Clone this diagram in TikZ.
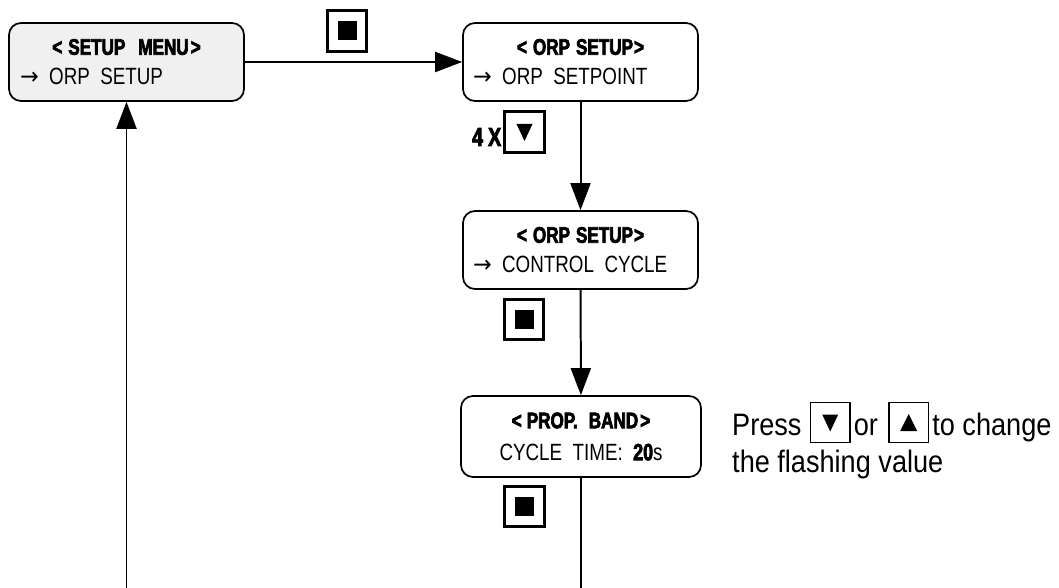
\documentclass[tikz,border=0pt]{standalone}
\usepackage{fontspec}
\setmainfont[FakeStretch=0.875]{Liberation Sans}
\newfontfamily\dinfont[FakeStretch=0.8,WordSpace=2]{Liberation Sans}
\newfontfamily\headfont[FakeStretch=0.76,FakeBold=3]{Liberation Sans Bold}
\newfontfamily\arrowfont[FakeStretch=0.95]{DejaVu Sans}
\usepackage{tikz}
\usetikzlibrary{arrows.meta,positioning}
\definecolor{menugray}{gray}{0.94}
\newcommand\menuarrow{{\arrowfont →}}

\tikzset{
  menubox/.style={draw, line width=0.6mm, rounded corners=12pt, minimum width=235pt, minimum height=78pt,
    inner sep=0pt, align=center, font=\dinfont\fontsize{23.5}{30}\selectfont},
  key/.style={draw, line width=0.9mm, minimum width=39.5pt, minimum height=40.5pt, inner sep=0pt},
  presskey/.style={draw, line width=0.5mm, minimum size=39.5pt, inner sep=0pt},
  stopmark/.style={path picture={\fill ([shift={(-9.5pt,-9.5pt)}]path picture bounding box.center) rectangle +(19pt,19pt);}},
  downmark/.style={path picture={\fill ([shift={(-8pt,8pt)}]path picture bounding box.center) -- +(16pt,0pt) -- +(8pt,-17pt) -- cycle;}},
  upmark/.style={path picture={\fill ([shift={(-8.5pt,-8.5pt)}]path picture bounding box.center) -- +(17pt,0pt) -- +(8.5pt,17pt) -- cycle;}},
  flow/.style={line width=0.7mm, -{Triangle[length=27pt,width=20pt]}},
  presstext/.style={inner sep=0pt, text height=25pt, text depth=0pt, font=\fontsize{31}{37}\selectfont},
}

\begin{document}
\begin{tikzpicture}[x=1pt, y=-1pt]
  %%%%% START %%%%%
  \useasboundingbox (0,0) rectangle (1059,588);

  \node[menubox, fill=menugray] (setupmenu) at (126.5,62)
    {{\headfont\fontsize{22.5}{30}\selectfont <\hspace{6pt}SETUP\hspace{13pt}MENU\hspace{2pt}>}\\\makebox[213pt][l]{\menuarrow\ ORP SETUP}};
  \node[menubox] (setpoint) at (580.5,62)
    {{\headfont\fontsize{22.5}{30}\selectfont <\hspace{6pt}ORP\hspace{6pt}SETUP\hspace{1pt}>}\\\makebox[215pt][l]{\menuarrow\ ORP SETPOINT}};
  \node[menubox] (cycle) at (580.5,250)
    {{\headfont\fontsize{22.5}{30}\selectfont <\hspace{6pt}ORP\hspace{6pt}SETUP\hspace{1pt}>}\\\makebox[215pt][l]{\menuarrow\ CONTROL CYCLE}};
  \node[menubox, minimum width=240pt, minimum height=81pt, font=\dinfont\fontsize{23.5}{32}\selectfont] (cycletime) at (581,436.5)
    {{\headfont\fontsize{22.5}{32}\selectfont <\hspace{5pt}PROP.\hspace{11pt}BAND\hspace{2pt}>}\\CYCLE TIME: {\headfont 20}s};

  \node[key, stopmark] (menukey) at (347,31) {};
  \node[key, downmark] (fourkey) at (524.5,132) {};
  \node[font=\headfont\fontsize{26}{30}\selectfont, inner sep=0pt, left=2pt of fourkey, yshift=-5pt] (fourx) {4\hspace{5pt}X};
  \node[key, stopmark] (cyclekey) at (524,319.5) {};
  \node[key, stopmark] (timekey) at (524.5,506.5) {};

  \coordinate (leftend) at (126.5,588);
  \coordinate (rightend) at (581,588);

  \draw[flow] (setupmenu) -- (setpoint);
  \draw[flow] (setpoint) -- (cycle);
  \draw[flow] (cycle) -- (cycletime);
  \draw[line width=0.7mm] (cycletime.south) -- (rightend);
  \draw[flow] (leftend) -- (setupmenu.south);

  % hint
  \node[presstext, anchor=base west] (press) at (732,435) {Press};
  \node[presskey, downmark, right=8pt of press] (pressdown) {};
  \node[presstext, right=3pt of pressdown] (pressor) {or};
  \node[presskey, upmark, right=10pt of pressor] (pressup) {};
  \node[presstext, right=3pt of pressup] (change) {to change};
  \node[presstext, below right=12pt and 0pt of press.south west] (flashing) {the flashing value};
  %%%%% END %%%%%
\end{tikzpicture}
\end{document}
